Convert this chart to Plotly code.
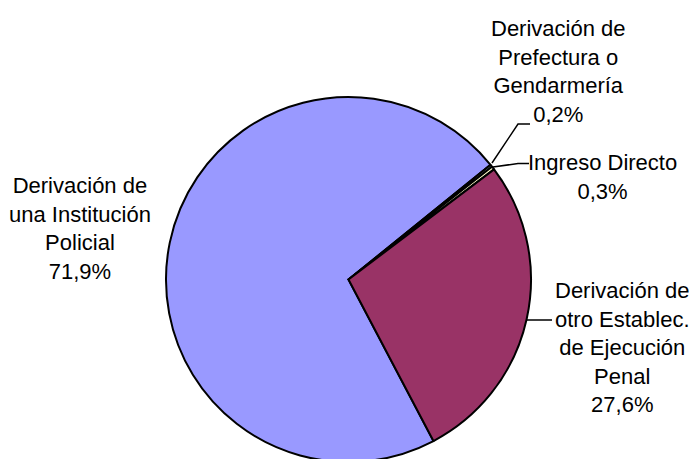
import plotly.graph_objects as go

W, H = 698, 459
OFF = 8  # page body margin offset (px) applied by the browser

# Data
categories = [
    "Derivación de<br>una Institución<br>Policial",
    "Derivación de<br>Prefectura o<br>Gendarmería",
    "Ingreso Directo",
    "Derivación de<br>otro Establec.<br>de Ejecución<br>Penal",
]
values = [71.9, 0.2, 0.3, 27.6]
colors = ["#9999FF", "#CCFFFF", "#FFFFCC", "#993366"]

def pct(v):
    return f"{v:.1f}".replace(".", ",") + "%"

# label centres (screen px) and leader lines (screen px)
label_pos = [(80, 229), (558, 72), (602, 177), (622, 347)]
leaders = [
    None,
    [(492, 163), (518, 124), (530, 124)],
    [(493, 167), (518, 163.5), (529, 163.5)],
    [(527, 320), (552, 320)],
]

FONT = "Liberation Sans, Arial, sans-serif"

def px2paper(x, y):
    return (x - OFF) / W, 1 - (y - OFF) / H

x0, _ = px2paper(166, 0)
x1, _ = px2paper(531, 0)
_, ytop = px2paper(0, 97)
_, ybot = px2paper(0, 462)

fig = go.Figure(go.Pie(
    labels=[c.replace("<br>", " ") for c in categories],
    values=values,
    sort=False,
    direction="clockwise",
    rotation=152.25,
    marker=dict(colors=colors, line=dict(color="black", width=2)),
    textinfo="none",
    hoverinfo="label+percent",
    showlegend=False,
    domain=dict(x=[x0, x1], y=[ybot, ytop]),
))

for cat, v, (lx, ly) in zip(categories, values, label_pos):
    ax, ay = px2paper(lx, ly)
    fig.add_annotation(
        x=ax, y=ay, xref="paper", yref="paper",
        text=f"{cat}<br>{pct(v)}", showarrow=False,
        xanchor="center", yanchor="middle", align="center",
        font=dict(family=FONT, size=22, color="black"),
    )

for pts in leaders:
    if not pts:
        continue
    path = ""
    for i, (x, y) in enumerate(pts):
        px, py = px2paper(x, y)
        path += ("M" if i == 0 else "L") + f" {px} {py} "
    fig.add_shape(type="path", path=path, xref="paper", yref="paper",
                  line=dict(color="black", width=1.5))

fig.update_layout(
    width=W, height=H,
    margin=dict(l=0, r=0, t=0, b=0),
    paper_bgcolor="white", plot_bgcolor="white",
)

fig.write_html("out.html")
